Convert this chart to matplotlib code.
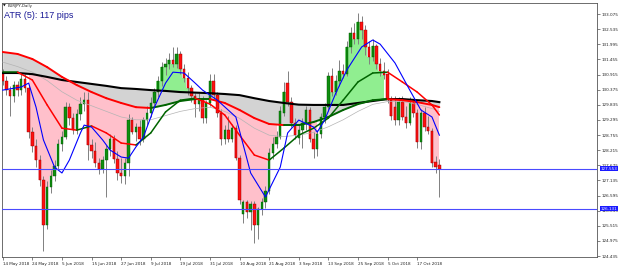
import numpy as np
import matplotlib
matplotlib.use("Agg")
import matplotlib.pyplot as plt
from matplotlib.collections import LineCollection
from matplotlib.patches import Rectangle
import matplotlib.transforms as mtransforms

# ---------------- data (EURJPY daily, 14 May 2018 .. 25 Oct 2018) ----------------
opens = [130.95,130.70,130.35,130.15,130.55,130.35,130.75,130.45,128.85,128.35,
         127.85,127.15,125.55,126.90,127.30,127.65,128.45,128.70,129.75,129.35,
         128.95,129.50,129.85,130.00,128.40,128.20,127.75,127.55,127.85,128.25,
         128.60,127.90,127.40,127.30,127.75,129.30,128.85,129.05,128.60,129.30,
         129.55,129.90,130.30,130.70,131.20,131.30,131.45,131.30,131.65,131.10,
         130.80,130.45,130.15,129.85,130.05,129.35,129.90,130.70,130.20,129.55,
         128.60,128.95,128.60,129.00,127.95,125.95,126.35,126.00,126.30,125.55,
         126.10,126.35,126.75,128.10,128.45,128.70,129.55,130.60,129.95,129.20,
         128.65,128.95,129.20,129.65,128.60,128.25,128.80,129.40,129.75,130.85,
         130.30,130.70,131.05,130.95,131.90,132.40,132.20,132.80,132.50,131.90,
         131.55,131.95,131.30,131.05,130.95,130.00,129.75,129.30,129.95,129.40,
         129.20,129.90,129.55,128.50,129.55,129.05,128.90,127.80,127.70]
highs = [131.10,130.85,130.50,130.70,130.70,130.95,130.95,130.55,129.05,128.60,
         128.05,127.30,127.10,127.50,127.85,128.60,128.90,129.95,129.90,129.55,
         129.70,130.10,130.30,130.30,128.60,128.50,127.95,128.00,128.40,128.80,
         128.75,128.20,127.95,127.95,129.50,129.40,129.20,129.30,129.40,129.80,
         130.10,130.45,130.85,131.35,131.50,131.70,131.90,131.90,131.75,131.30,
         131.00,130.55,130.25,130.25,130.15,130.00,130.95,130.95,130.30,129.70,
         129.10,129.45,129.15,129.10,128.05,126.45,126.45,126.40,126.40,126.20,
         126.50,126.95,128.30,128.70,128.90,129.80,130.65,131.05,130.10,129.35,
         129.10,129.35,129.80,129.75,128.85,128.95,129.55,129.90,131.00,131.15,
         130.90,131.45,131.30,132.10,132.60,132.75,133.10,133.00,132.70,132.10,
         132.20,132.00,131.50,131.35,131.10,130.15,130.15,130.10,130.15,129.80,
         130.10,130.00,129.70,129.70,129.75,129.45,129.00,128.00,127.90]
lows = [130.55,130.20,129.45,129.95,130.15,130.20,130.30,128.65,128.15,127.60,
        126.95,124.60,125.40,126.70,127.10,127.55,128.20,128.60,129.10,128.80,
        128.80,129.30,129.60,127.85,127.95,127.60,127.35,127.40,126.55,128.00,
        127.75,127.15,127.05,127.00,127.30,128.80,128.55,128.40,128.50,129.10,
        129.40,129.80,130.10,130.50,130.90,131.10,131.20,131.15,130.95,130.65,
        130.20,129.95,129.40,129.60,129.20,129.20,129.80,130.05,129.40,128.40,
        128.45,128.50,128.50,127.85,126.30,125.60,125.80,125.35,124.90,125.05,
        125.90,126.15,126.65,127.90,128.30,128.60,129.45,129.80,129.05,128.60,
        128.45,128.30,128.95,128.50,127.95,128.00,128.65,129.20,129.60,130.15,
        130.20,130.50,130.80,130.85,131.70,132.00,132.00,132.20,131.60,131.30,
        131.40,131.10,130.85,130.75,129.90,129.30,129.10,129.10,129.30,129.00,
        129.10,129.40,128.30,128.25,128.90,128.80,127.60,127.40,126.55]
closes = [130.70,130.35,130.15,130.55,130.35,130.75,130.45,128.85,128.35,127.85,
          127.15,125.55,126.90,127.30,127.65,128.45,128.70,129.75,129.35,128.95,
          129.50,129.85,130.00,128.40,128.20,127.75,127.55,127.85,128.25,128.60,
          127.90,127.40,127.30,127.75,129.30,128.85,129.05,128.60,129.30,129.55,
          129.90,130.30,130.70,131.20,131.30,131.45,131.30,131.65,131.10,130.80,
          130.45,130.15,129.85,130.05,129.35,129.90,130.70,130.20,129.55,128.60,
          128.95,128.60,129.00,127.95,126.45,126.35,126.00,126.30,125.55,126.10,
          126.35,126.75,128.10,128.45,128.70,129.60,130.30,129.95,129.20,128.75,
          128.95,129.20,129.65,128.60,128.25,128.80,129.40,129.75,130.85,130.30,
          130.70,131.05,130.95,131.90,132.40,132.20,132.80,132.50,131.90,131.55,
          131.95,131.30,131.05,130.90,130.00,129.45,129.30,129.95,129.40,129.20,
          129.90,129.55,128.50,129.55,129.05,128.90,127.75,127.60,127.55]

date_tick_idx = [0, 8, 16, 24, 32, 40, 48, 56, 64, 72, 80, 88, 96, 104, 112]
date_labels = ["14 May 2018", "24 May 2018", "5 Jun 2018", "15 Jun 2018", "27 Jun 2018",
               "9 Jul 2018", "19 Jul 2018", "31 Jul 2018", "10 Aug 2018", "21 Aug 2018",
               "3 Sep 2018", "13 Sep 2018", "25 Sep 2018", "5 Oct 2018", "17 Oct 2018"]

price_ticks = [133.075, 132.535, 131.995, 131.455, 130.915, 130.375, 129.835, 129.295,
               128.755, 128.215, 127.675, 127.135, 126.595, 126.055, 125.515, 124.975, 124.435]

# moving-average lines (values at sample bars)
ma_idx = [0, 4, 8, 12, 16, 20, 24, 28, 32, 36, 40, 44, 48, 52, 56, 60, 64, 68, 72, 76,
          80, 84, 88, 92, 96, 100, 104, 108, 112, 116, 118]
ma_slow = [130.97,130.97,130.93,130.83,130.72,130.65,130.58,130.51,130.43,130.40,130.36,
           130.33,130.29,130.27,130.25,130.22,130.18,130.07,129.97,129.90,129.84,129.83,
           129.83,129.83,129.90,129.97,130.04,130.04,130.00,129.97,129.93]
ma_mid = [131.72,131.65,131.47,131.18,130.83,130.54,130.29,130.07,129.90,129.75,129.72,
          129.83,129.97,130.04,130.04,129.90,129.65,129.36,129.15,129.11,129.11,129.22,
          129.40,129.65,129.86,130.00,130.04,130.00,129.93,129.83,129.75]
ma_fast = [131.00,131.00,130.72,129.83,129.00,128.93,129.08,128.83,128.47,128.40,128.83,
           129.58,130.00,130.07,129.86,129.47,128.75,128.04,127.86,128.29,128.75,129.00,
           129.36,130.00,130.65,130.97,131.00,130.65,130.29,129.83,129.47]
ma_gray = [131.36,131.20,131.00,130.70,130.30,130.00,129.80,129.60,129.40,129.30,129.30,
           129.45,129.60,129.70,129.75,129.60,129.35,129.00,128.75,128.70,128.75,128.85,
           129.05,129.30,129.60,129.85,129.95,129.95,129.85,129.70,129.60]
blue_idx = [0, 5, 7, 9, 11, 14, 16, 18, 21, 22, 24, 27, 29, 32, 34, 36, 38, 41, 44, 46,
            49, 52, 54, 58, 63, 67, 71, 75, 77, 80, 84, 85, 87, 90, 93, 97, 100, 102,
            106, 110, 113, 116, 118]
blue_val = [130.36,130.47,130.61,129.75,128.58,127.61,127.40,127.86,128.83,129.11,129.04,
            128.58,128.22,127.97,127.93,128.33,128.68,129.75,130.61,131.00,130.97,130.61,
            130.36,130.00,129.40,127.40,126.54,127.61,128.83,129.29,129.04,128.86,129.29,
            130.25,131.08,131.90,132.15,132.00,131.33,130.36,129.65,129.40,128.75]

fill_start = 7
hlines = [127.553, 126.131]

# ---------------- drawing ----------------
fig = plt.figure(figsize=(6.25, 2.69), dpi=100)
ax = fig.add_axes([2/625, 1-257/269, 595/625, 254/269])
ax.set_xlim(-0.2, 160.6)
ax.set_ylim(124.40, 133.47)

n = len(closes)
bars = np.arange(n)
cl = np.array(closes)
mid_bar = np.interp(bars, ma_idx, ma_mid)
slow_bar = np.interp(bars, ma_idx, ma_slow)

xb = bars[fill_start:]
cb = cl[fill_start:]
mb = mid_bar[fill_start:]
ax.fill_between(xb, mb, cb, where=cb < mb, step='mid', color='#ffc0cb', lw=0, zorder=1)
ax.fill_between(xb, mb, cb, where=cb >= mb, step='mid', color='#90ee90', lw=0, zorder=1)
ax.fill_between(bars, mid_bar, slow_bar, color='#d3d3d3', lw=0, zorder=1.5)

# candles
for i in range(n):
    o, h, l, c = opens[i], highs[i], lows[i], closes[i]
    ax.vlines(i, l, h, color='#808080', lw=0.7, zorder=3)
    up = c >= o
    fc = '#0f8f0f' if up else '#ff1010'
    ec = '#004d00' if up else '#8b0000'
    ax.add_patch(Rectangle((i - 0.33, min(o, c)), 0.66, max(abs(c - o), 0.03),
                           facecolor=fc, edgecolor=ec, lw=0.3, zorder=4))

def slope_line(xs, ys, lw, z):
    xs = np.asarray(xs, float); ys = np.asarray(ys, float)
    segs = [[(xs[k], ys[k]), (xs[k+1], ys[k+1])] for k in range(len(xs)-1)]
    cols = ['#ff0000' if ys[k+1] < ys[k] else '#006400' for k in range(len(xs)-1)]
    ax.add_collection(LineCollection(segs, colors=cols, linewidths=lw, zorder=z,
                                     capstyle='round', joinstyle='round'))

ax.plot(ma_idx, ma_gray, color='#b4b4b4', lw=0.5, zorder=5)
ax.plot(ma_idx, ma_slow, color='#000000', lw=1.5, zorder=5)
slope_line(ma_idx, ma_mid, 1.4, 6)
slope_line(ma_idx, ma_fast, 1.1, 6)
ax.plot(blue_idx, blue_val, color='#0000ff', lw=0.8, zorder=7)

for v in hlines:
    ax.axhline(v, color='#4a4aff', lw=0.8, zorder=8)

# axes styling
for s in ax.spines.values():
    s.set_color('#555555'); s.set_linewidth(0.6)
ax.yaxis.tick_right()
ax.set_yticks(price_ticks)
ax.set_yticklabels([f"{p:.3f}" for p in price_ticks])
ax.tick_params(axis='y', labelsize=3, length=2, width=0.4, pad=1.5, colors='#222222')
ax.set_xticks(date_tick_idx)
ax.set_xticklabels(date_labels, ha='left')
ax.tick_params(axis='x', labelsize=3, length=2, width=0.4, pad=1.5, colors='#222222')

trans = mtransforms.blended_transform_factory(ax.transAxes, ax.transData)
for v in hlines:
    ax.text(1.006, v, f"{v:.3f}", transform=trans, fontsize=3, color='white',
            va='center', ha='left', zorder=10,
            bbox=dict(facecolor='#1a1aff', edgecolor='none', pad=0.5))

fig.text(2.5/625, 1-5.5/269, '\u25BC', fontsize=2.5, va='center', ha='left', color='#111111')
fig.text(8/625, 1-5.5/269, 'EURJPY,Daily', fontsize=2.8, va='center', ha='left', color='#222222')
fig.text(4/625, 1-15.5/269, 'ATR (5): 117 pips', fontsize=6.5, va='center', ha='left',
         color='#1a1a96', family='Liberation Sans')

fig.savefig('out.png', dpi=100)
